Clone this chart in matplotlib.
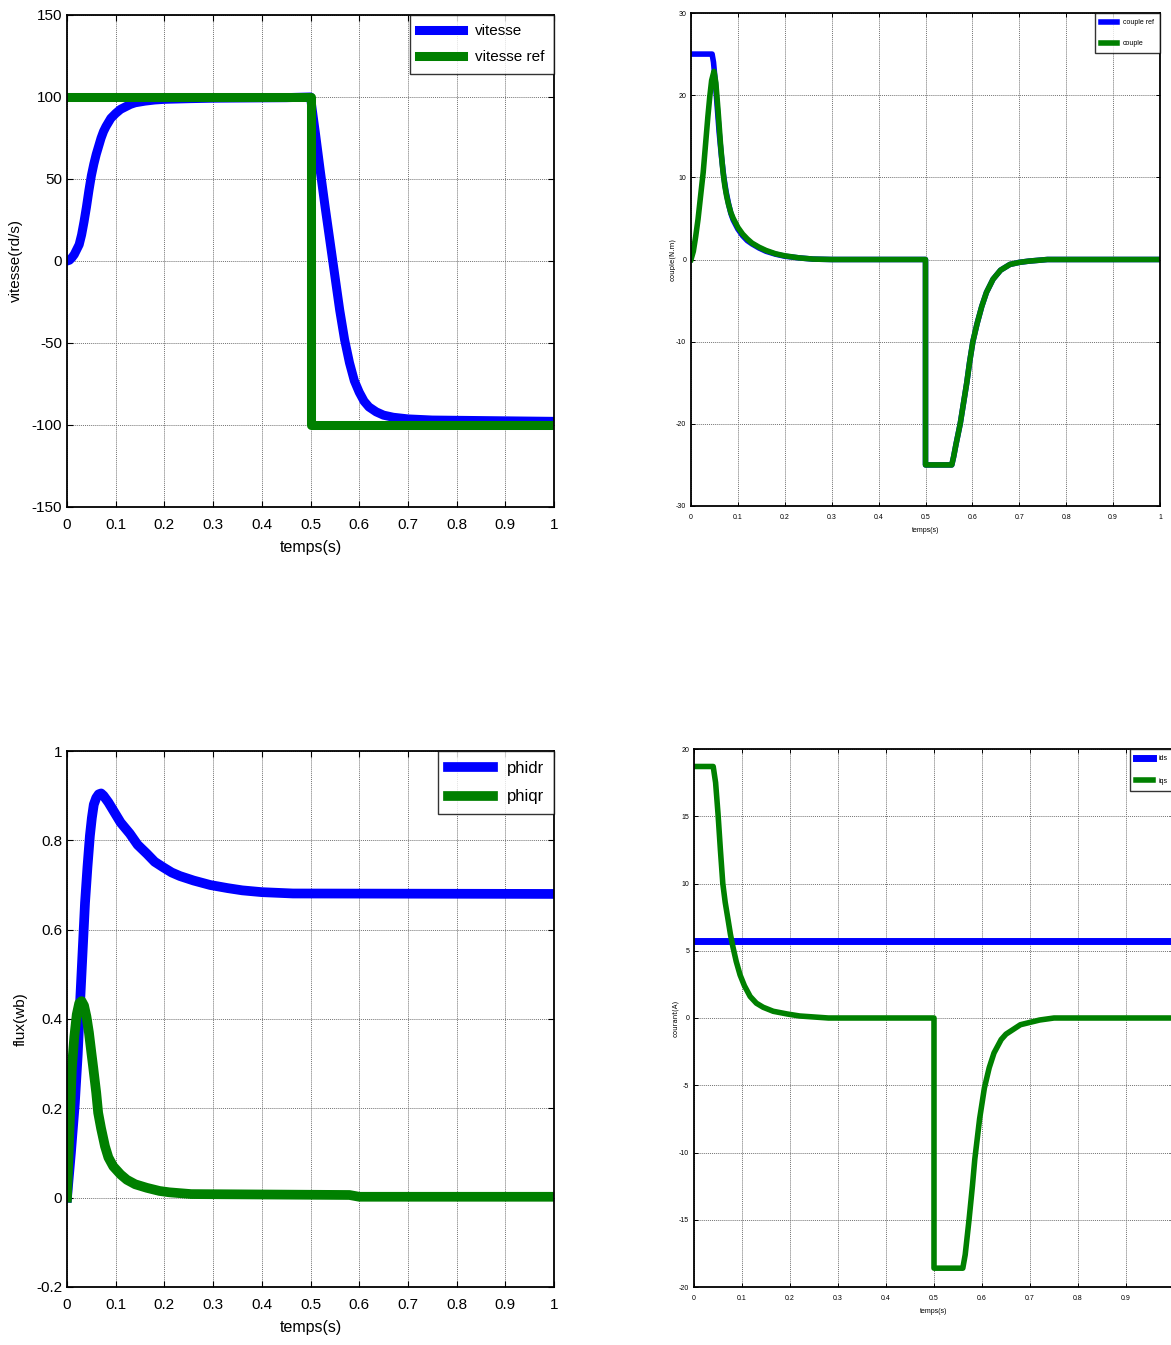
import matplotlib.pyplot as plt

plt.rcParams['font.family'] = ['Liberation Sans', 'DejaVu Sans']

# vitesse (rd/s)
t_vit = [0, 0.005, 0.01, 0.015, 0.02, 0.025, 0.03, 0.035, 0.04, 0.045, 0.05, 0.055, 0.06, 0.065,
         0.07, 0.075, 0.08, 0.09, 0.1, 0.11, 0.12, 0.13, 0.14, 0.16, 0.18, 0.2, 0.25, 0.3, 0.45, 0.5,
         0.51, 0.52, 0.53, 0.54, 0.55, 0.56, 0.57, 0.58, 0.59, 0.6, 0.61, 0.62, 0.635, 0.65, 0.67,
         0.7, 0.75, 1.0]
vitesse = [0, 0.5, 2, 4, 7, 10, 16, 24, 33, 43, 52, 59, 65, 70,
           75, 79, 82, 87, 90, 92.5, 94, 95.5, 96.5, 97.5, 98.2, 98.6, 99, 99.3, 99.6, 100,
           78, 55, 33, 12, -9, -30, -48, -62, -73, -80, -85.5, -89, -92, -94, -95.3,
           -96.3, -97, -97.8]
t_vref = [0, 0.5, 0.5, 1.0]
vitesse_ref = [100, 100, -100, -100]

# couple (N.m)
t_cref = [0, 0.045, 0.048, 0.052, 0.056, 0.06, 0.065, 0.07, 0.075, 0.08, 0.085, 0.09, 0.1, 0.11,
          0.12, 0.13, 0.145, 0.16, 0.18, 0.2, 0.23, 0.26, 0.3, 0.5,
          0.5, 0.556, 0.56, 0.565, 0.574, 0.581, 0.588, 0.594, 0.601, 0.61, 0.62, 0.63, 0.644,
          0.66, 0.68, 0.7, 0.72, 0.76, 1.0]
couple_ref = [25, 25, 24, 21.5, 18.5, 15.5, 12.5, 10, 8.2, 6.8, 5.6, 4.8, 3.7, 2.9,
              2.3, 1.9, 1.4, 1.0, 0.65, 0.4, 0.2, 0.05, 0, 0,
              -25, -25, -24, -22.5, -20, -17.5, -15, -12.5, -10, -7.8, -5.7, -4.0, -2.4,
              -1.3, -0.6, -0.35, -0.2, 0, 0]
t_cpl = [0, 0.005, 0.01, 0.015, 0.02, 0.026, 0.031, 0.036, 0.04, 0.044, 0.049, 0.053, 0.058,
         0.063, 0.068, 0.072, 0.076, 0.08, 0.085, 0.09, 0.1, 0.11, 0.12, 0.13, 0.145, 0.16, 0.18,
         0.2, 0.23, 0.26, 0.3, 0.5,
         0.5, 0.556, 0.56, 0.565, 0.574, 0.581, 0.588, 0.594, 0.601, 0.61, 0.62, 0.63, 0.644,
         0.66, 0.68, 0.7, 0.72, 0.76, 1.0]
couple = [0, 1, 2.8, 4.9, 7.5, 10.6, 14, 17.4, 19.8, 21.8, 22.9, 21.5, 17.9,
          14, 10.8, 9.0, 7.7, 6.7, 5.7, 5.0, 3.9, 3.1, 2.5, 2.0, 1.5, 1.1, 0.7,
          0.45, 0.2, 0.05, 0, 0,
          -25, -25, -24, -22.5, -20, -17.5, -15, -12.5, -10, -7.8, -5.7, -4.0, -2.4,
          -1.3, -0.6, -0.35, -0.2, 0, 0]

# flux (wb)
t_phid = [0, 0.008, 0.016, 0.022, 0.027, 0.032, 0.037, 0.042, 0.047, 0.051, 0.055, 0.06, 0.065,
          0.07, 0.075, 0.085, 0.095, 0.11, 0.129, 0.145, 0.164, 0.18, 0.197, 0.215, 0.232, 0.26,
          0.294, 0.33, 0.36, 0.4, 0.464, 1.0]
phidr = [0, 0.1, 0.21, 0.32, 0.44, 0.55, 0.66, 0.74, 0.81, 0.85, 0.88, 0.895, 0.903,
         0.905, 0.9, 0.885, 0.867, 0.84, 0.815, 0.79, 0.77, 0.752, 0.74, 0.728, 0.72, 0.71,
         0.70, 0.693, 0.688, 0.684, 0.681, 0.68]
t_phiq = [0, 0.005, 0.01, 0.015, 0.02, 0.025, 0.03, 0.035, 0.04, 0.045, 0.05, 0.054, 0.06, 0.064,
          0.07, 0.078, 0.085, 0.095, 0.11, 0.123, 0.14, 0.164, 0.19, 0.21, 0.255, 0.58, 0.6, 1.0]
phiqr = [0, 0.15, 0.29, 0.36, 0.41, 0.435, 0.44, 0.43, 0.405, 0.37, 0.325, 0.29, 0.235, 0.19,
         0.155, 0.115, 0.09, 0.07, 0.052, 0.04, 0.03, 0.022, 0.015, 0.012, 0.008, 0.006, 0.002, 0.002]

# courant (A)
t_ids = [0, 1.0]
ids = [5.7, 5.7]
t_iqs = [0, 0.04, 0.045, 0.05, 0.055, 0.06, 0.065, 0.071, 0.076, 0.081, 0.088, 0.096, 0.105,
         0.117, 0.13, 0.144, 0.165, 0.194, 0.22, 0.24, 0.28, 0.5,
         0.5, 0.56, 0.565, 0.573, 0.58, 0.585, 0.595, 0.605, 0.615, 0.625, 0.64, 0.65, 0.68,
         0.72, 0.75, 1.0]
iqs = [18.7, 18.7, 17.5, 15.2, 12.5, 10, 8.6, 7.3, 6.2, 5.3, 4.2, 3.2, 2.4,
       1.6, 1.1, 0.8, 0.5, 0.3, 0.15, 0.1, 0, 0,
       -18.6, -18.6, -17.6, -15, -12.5, -10.5, -7.5, -5.2, -3.7, -2.6, -1.6, -1.2, -0.5,
       -0.15, 0, 0]

xticks = [0, 0.1, 0.2, 0.3, 0.4, 0.5, 0.6, 0.7, 0.8, 0.9, 1]
xlabels = ['0', '0.1', '0.2', '0.3', '0.4', '0.5', '0.6', '0.7', '0.8', '0.9', '1']

W, H = 1171, 1345
fig = plt.figure(figsize=(W / 100, H / 100), dpi=100)


def box(l, r, t, b):
    return [l / W, (H - b) / H, (r - l) / W, (b - t) / H]


def style(ax, yticks, ylabel, fs, big=True):
    ax.set_xlim(0, 1)
    ax.set_ylim(yticks[0], yticks[-1])
    ax.set_xticks(xticks)
    ax.set_xticklabels(xlabels)
    ax.set_yticks(yticks)
    ax.set_yticklabels(['%g' % v for v in yticks])
    if big:
        ax.tick_params(direction='in', top=True, right=True, labelsize=fs, length=4, width=0.8)
        ax.tick_params(axis='x', pad=8)
        ax.set_xlabel('temps(s)', fontsize=fs + 0.5, labelpad=6)
        ax.set_ylabel(ylabel, fontsize=fs, labelpad=6)
    else:
        ax.tick_params(direction='in', top=True, right=True, labelsize=fs, length=3, width=0.7)
        ax.tick_params(axis='x', pad=6)
        ax.set_xlabel('temps(s)', fontsize=fs, labelpad=4)
        ax.set_ylabel(ylabel, fontsize=fs, labelpad=0, family=['DejaVu Sans'])
    ax.grid(True, color='0.45', linestyle=(0, (1, 1)), linewidth=0.7)
    for s in ax.spines.values():
        s.set_linewidth(1.3)


def legend(ax, fs, hl, spacing, pad=0.5):
    leg = ax.legend(loc='upper right', fontsize=fs, frameon=True, fancybox=False,
                    borderaxespad=0, handlelength=hl, handletextpad=0.8,
                    borderpad=pad, labelspacing=spacing)
    leg.get_frame().set_edgecolor('black')
    leg.get_frame().set_linewidth(1.0)


ax1 = fig.add_axes(box(67, 554, 15, 507))
ax1.plot(t_vit, vitesse, color='#0000ff', lw=6.5, label='vitesse', solid_joinstyle='round')
ax1.plot(t_vref, vitesse_ref, color='#008000', lw=6.5, label='vitesse ref', solid_joinstyle='round')
style(ax1, [-150, -100, -50, 0, 50, 100, 150], 'vitesse(rd/s)', 11)
legend(ax1, 11, 2.9, 0.8, pad=0.6)

ax2 = fig.add_axes(box(691, 1160, 13, 506))
ax2.plot(t_cref, couple_ref, color='#0000ff', lw=4, label='couple ref', solid_joinstyle='round')
ax2.plot(t_cpl, couple, color='#008000', lw=4, label='couple', solid_joinstyle='round')
style(ax2, [-30, -20, -10, 0, 10, 20, 30], 'couple(N.m)', 5, big=False)
legend(ax2, 5, 2.3, 2.0, pad=0.9)

ax3 = fig.add_axes(box(67, 554, 751, 1287))
ax3.plot(t_phid, phidr, color='#0000ff', lw=7, label='phidr', solid_joinstyle='round')
ax3.plot(t_phiq, phiqr, color='#008000', lw=7, label='phiqr', solid_joinstyle='round')
style(ax3, [-0.2, 0, 0.2, 0.4, 0.6, 0.8, 1], 'flux(wb)', 11)
legend(ax3, 12, 2.7, 0.8, pad=0.6)

ax4 = fig.add_axes(box(694, 1174, 749, 1287))
ax4.plot(t_ids, ids, color='#0000ff', lw=5, label='ids')
ax4.plot(t_iqs, iqs, color='#008000', lw=4, label='iqs', solid_joinstyle='round')
style(ax4, [-20, -15, -10, -5, 0, 5, 10, 15, 20], 'courant(A)', 5, big=False)
ax4.set_xticklabels(xlabels[:-1] + [''])
legend(ax4, 5, 2.4, 2.2, pad=0.9)

fig.savefig('out.png', dpi=100)
